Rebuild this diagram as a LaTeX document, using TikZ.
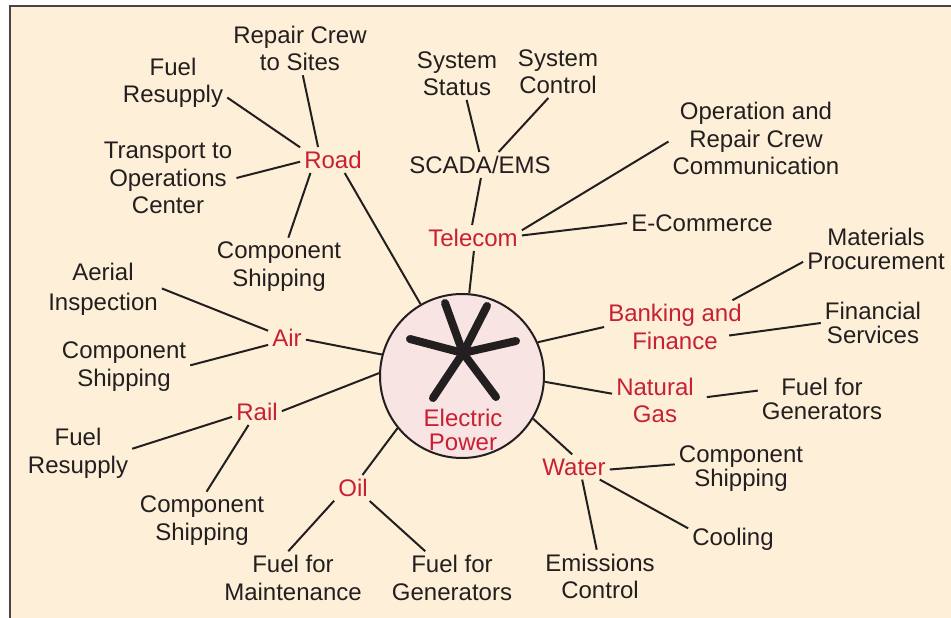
\documentclass[tikz,border=0pt]{standalone}
\usepackage{fontspec}
\setmainfont{Liberation Sans}
\definecolor{bgc}{RGB}{254,240,216}
\definecolor{ink}{RGB}{35,31,32}
\definecolor{hubred}{RGB}{200,32,50}
\definecolor{disc}{RGB}{248,228,226}
\definecolor{framec}{RGB}{74,68,68}
\tikzset{
  lbl/.style={font=\fontsize{24}{27.5}\selectfont, text=ink, align=center, inner sep=4pt},
  hub/.style={lbl, text=hubred},
  tightlines/.style={font=\fontsize{24}{24}\selectfont},
  widelines/.style={font=\fontsize{24}{30}\selectfont},
  link/.style={draw=ink, line width=2pt},
  arm/.style={draw=ink, line width=8pt, line cap=round}
}
\begin{document}
\begin{tikzpicture}[x=1pt,y=-1pt]
\useasboundingbox (0,0) rectangle (951,618);
\fill[bgc] (10,6) rectangle (951,618);
\draw[framec, line width=2pt] (10,618) -- (10,6) -- (951,6);

% central disc
\node[circle, draw=ink, fill=disc, line width=2pt, minimum size=164pt, inner sep=0pt] (ep) at (462,376) {};
\coordinate (hubc) at (463,353);
\draw[arm] (hubc) -- (445,303);
\draw[arm] (hubc) -- (487,306);
\draw[arm] (hubc) -- (410,339);
\draw[arm] (hubc) -- (516,341);
\draw[arm] (hubc) -- (433,398);
\draw[arm] (hubc) -- (496,397);
\node[hub, tightlines] (eptext) at (463,430) {Electric\\Power};

% Road
\node[hub] (road) at (333,160) {Road};
\node[lbl] (repair) at (300,48.5) {Repair Crew\\to Sites};
\node[lbl] (fuelR) at (173,83) {Fuel\\Resupply};
\node[lbl] (transport) at (168,178) {Transport to\\Operations\\Center};
\node[lbl] (compRoad) at (279,266.5) {Component\\Shipping};
\draw[link] (road.139) -- (repair.-84.6);
\draw[link] (road.159.8) -- (fuelR.-15.8);
\draw[link] (road.183) -- (transport.0.8);
\draw[link] (road.210) -- (compRoad.72.4);
\draw[link] (road.-48.2) -- (ep.120.6);

% Telecom
\node[lbl] (scada) at (480,165) {SCADA/EMS};
\node[lbl] (status) at (457,73.5) {System\\Status};
\node[lbl] (control) at (558,71.5) {System\\Control};
\node[hub] (telecom) at (473,238) {Telecom};
\node[lbl] (operation) at (756,138.5) {Operation and\\Repair Crew\\Communication};
\node[lbl] (ecommerce) at (702,223) {E-Commerce};
\draw[link] (scada.93.2) -- (status.-70.2);
\draw[link] (scada.35.9) -- (control.-110.3);
\draw[link] (scada.-86.6) -- (telecom.94.4);
\draw[link] (telecom.9.6) -- (operation.182.5);
\draw[link] (telecom.3.2) -- (ecommerce.180);
\draw[link] (telecom.-86.6) -- (ep.85.9);

% Banking and Finance
\node[hub] (banking) at (675,327) {Banking and\\Finance};
\node[lbl, tightlines] (materials) at (876,249) {Materials\\Procurement};
\node[lbl, tightlines] (financial) at (873,323) {Financial\\Services};
\draw[link] (banking.25.4) -- (materials.190.2);
\draw[link, shorten <=-17pt] (banking.-5.5) -- (financial.180);
\draw[link] (banking.180) -- (ep.24.7);

% Natural Gas
\node[hub] (natgas) at (655,400.5) {Natural\\Gas};
\node[lbl, tightlines] (fuelGen) at (822,398.5) {Fuel for\\Generators};
\draw[link] (natgas.171.8) -- (ep.-4.8);
\draw[link, shorten <=9pt] (natgas.3.9) -- (fuelGen.173);

% Water
\node[hub] (water) at (574,467) {Water};
\node[lbl, tightlines] (compWater) at (741,469) {Component\\Shipping};
\node[lbl] (cooling) at (733,539.5) {Cooling};
\node[lbl] (emissions) at (600,576.5) {Emissions\\Control};
\draw[link] (water.98.1) -- (ep.-31.8);
\draw[link] (water.-4.8) -- (compWater.176.8);
\draw[link] (water.-26.6) -- (cooling.166);
\draw[link] (water.-57.3) -- (emissions.97);

% Oil
\node[hub] (oil) at (353,488) {Oil};
\node[lbl] (fuelMaint) at (293,578) {Fuel for\\Maintenance};
\node[lbl] (fuelGenOil) at (452,578) {Fuel for\\Generators};
\draw[link] (oil.54.2) -- (ep.219.1);
\draw[link] (oil.214.5) -- (fuelMaint.100);
\draw[link] (oil.-38.3) -- (fuelGenOil.135);

% Rail
\node[hub] (rail) at (257,412) {Rail};
\node[lbl] (fuelRail) at (78,453.5) {Fuel\\Resupply};
\node[lbl] (compRail) at (202,520.5) {Component\\Shipping};
\draw[link] (rail.2.2) -- (ep.178.6);
\draw[link] (rail.191.3) -- (fuelRail.5.8);
\draw[link] (rail.237.3) -- (compRail.81.5);

% Air
\node[hub] (air) at (287,338) {Air};
\node[lbl, widelines] (aerial) at (103,289.5) {Aerial\\Inspection};
\node[lbl] (compAir) at (124,366.5) {Component\\Shipping};
\draw[link] (air.-5.2) -- (ep.165.1);
\draw[link] (air.159.1) -- (aerial.1.5);
\draw[link] (air.200.6) -- (compAir.1.3);
\end{tikzpicture}
\end{document}
